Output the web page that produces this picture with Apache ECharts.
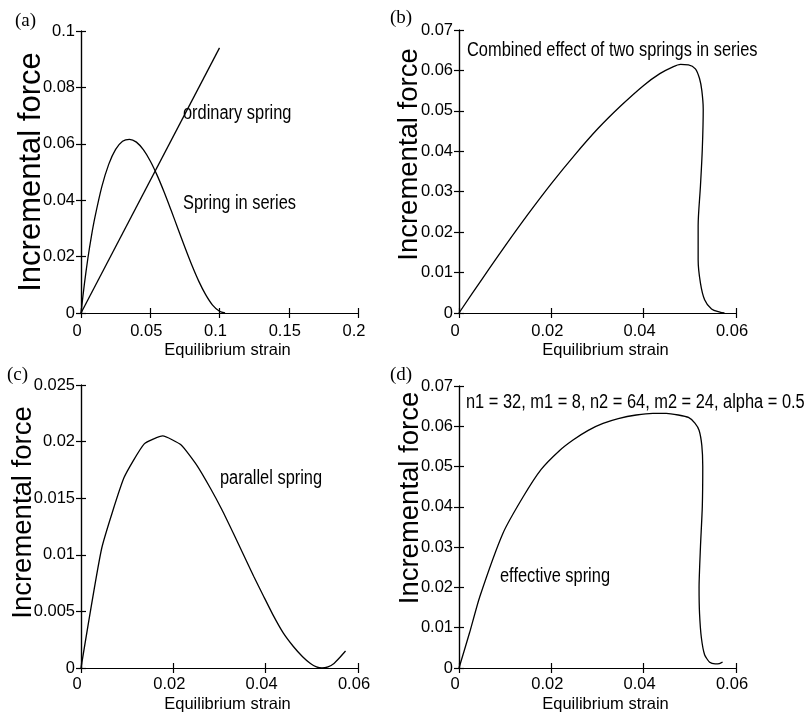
<!DOCTYPE html>
<html>
<head>
<meta charset="utf-8">
<script src="https://cdn.jsdelivr.net/npm/echarts@6/dist/echarts.min.js"></script>
<style>html,body{margin:0;padding:0;background:#fff;}#chart{width:805px;height:718px;}</style>
</head>
<body>
<div id="chart"></div>
<script>
// ---------- data ----------
// panel (a)
const aOrdinaryX = [0, 0.1];
const aOrdinaryY = [0, 0.094];
const aSeriesX = [0, 0.0025, 0.005, 0.0075, 0.01, 0.015, 0.02, 0.025, 0.03, 0.035, 0.04, 0.045, 0.05, 0.055, 0.06, 0.065, 0.07, 0.075, 0.08, 0.085, 0.09, 0.095, 0.1, 0.104];
const aSeriesY = [0, 0.0105, 0.0195, 0.0272, 0.0338, 0.0447, 0.0527, 0.058, 0.0609, 0.0616, 0.0606, 0.0579, 0.0539, 0.0488, 0.0429, 0.0365, 0.0299, 0.0233, 0.0170, 0.0113, 0.0065, 0.0028, 0.0006, 0];
// panel (b)
const bX = [0, 0.005, 0.01, 0.015, 0.02, 0.025, 0.03, 0.035, 0.04, 0.0435, 0.046, 0.048, 0.0497, 0.0512, 0.0521, 0.0526, 0.0529, 0.0527, 0.0523, 0.0518, 0.0518, 0.0523, 0.0532, 0.0547, 0.0565, 0.0575];
const bY = [0, 0.0084, 0.0166, 0.0245, 0.032, 0.039, 0.0455, 0.0512, 0.0563, 0.0592, 0.0607, 0.0615, 0.0614, 0.0604, 0.058, 0.055, 0.0504, 0.0405, 0.0314, 0.0215, 0.0132, 0.0074, 0.0033, 0.001, 0.0002, 0];
// panel (c)
const cX = [0, 0.0045, 0.0093, 0.0137, 0.0177, 0.0217, 0.0251, 0.028, 0.0305, 0.033, 0.0352, 0.0374, 0.0396, 0.0417, 0.0438, 0.046, 0.048, 0.0497, 0.051, 0.0522, 0.0535, 0.0548, 0.056, 0.0573];
const cY = [0, 0.0106, 0.0168, 0.0198, 0.0205, 0.0197, 0.0179, 0.0159, 0.014, 0.0119, 0.01, 0.0081, 0.0063, 0.0046, 0.0031, 0.0019, 0.001, 0.0004, 0.0001, 0, 0.0001, 0.0004, 0.0009, 0.0015];
// panel (d)
const dX = [0, 0.0023, 0.0045, 0.0095, 0.0139, 0.0178, 0.0218, 0.0247, 0.028, 0.0312, 0.0345, 0.0384, 0.042, 0.0449, 0.0475, 0.0497, 0.0511, 0.052, 0.0526, 0.0528, 0.0527, 0.0523, 0.052, 0.0521, 0.0525, 0.0532, 0.0543, 0.0555, 0.0564, 0.0571];
const dY = [0, 0.0088, 0.0177, 0.0334, 0.0425, 0.0493, 0.054, 0.0566, 0.059, 0.0607, 0.0619, 0.0628, 0.0632, 0.0632, 0.0628, 0.0622, 0.0608, 0.059, 0.0552, 0.05, 0.04, 0.03, 0.02, 0.0136, 0.0075, 0.0033, 0.0014, 0.001, 0.0011, 0.0015];

// tick labels
const aXTicks = ['0', '0.05', '0.1', '0.15', '0.2'];
const aYTicks = ['0', '0.02', '0.04', '0.06', '0.08', '0.1'];
const bXTicks = ['0', '0.02', '0.04', '0.06'];
const bYTicks = ['0', '0.01', '0.02', '0.03', '0.04', '0.05', '0.06', '0.07'];
const cXTicks = ['0', '0.02', '0.04', '0.06'];
const cYTicks = ['0', '0.005', '0.01', '0.015', '0.02', '0.025'];
const dXTicks = ['0', '0.02', '0.04', '0.06'];
const dYTicks = ['0', '0.01', '0.02', '0.03', '0.04', '0.05', '0.06', '0.07'];

// texts
const xName = 'Equilibrium strain';
const yName = 'Incremental force';
const panelTags = ['(a)', '(b)', '(c)', '(d)'];
const notes = ['ordinary spring', 'Spring in series', 'Combined effect of two springs in series', 'parallel spring', 'n1 = 32, m1 = 8, n2 = 64, m2 = 24, alpha = 0.5', 'effective spring'];

// ---------- build ----------
const SANS = "'Liberation Sans', Arial, sans-serif";
const SERIF = "'Liberation Serif', 'Times New Roman', serif";
const pair = (xs, ys) => xs.map((x, i) => [x, ys[i]]);

const grids = [
  {left: 81, top: 31, width: 277, height: 282},
  {left: 459, top: 30, width: 277, height: 283},
  {left: 81, top: 385, width: 277, height: 283},
  {left: 459, top: 386, width: 277, height: 282}
];
const xTicksAll = [aXTicks, bXTicks, cXTicks, dXTicks];
const yTicksAll = [aYTicks, bYTicks, cYTicks, dYTicks];
const yNameFont = [31, 27.5, 27.5, 27.5];
const yNameGap = [34, 36, 44, 35];
const yNameShift = [0, 17, 14, 29];
const xLabelMargin = [10, 10, 8, 8];
const xNameGap = [29, 29, 28, 28];
const TICK_FS = 16.5;

const lineStyleAxis = {color: '#000', width: 1.2};
const xAxes = [], yAxes = [];
grids.forEach((g, i) => {
  const xt = xTicksAll[i], yt = yTicksAll[i];
  const xmin = +xt[0], xmax = +xt[xt.length - 1], xint = +xt[1] - +xt[0];
  const ymin = +yt[0], ymax = +yt[yt.length - 1], yint = +yt[1] - +yt[0];
  xAxes.push({
    type: 'value', gridIndex: i, position: 'bottom', min: xmin, max: xmax, interval: xint,
    axisLine: {show: true, lineStyle: lineStyleAxis},
    axisTick: {show: true, inside: true, length: 5, lineStyle: lineStyleAxis},
    splitLine: {show: false},
    axisLabel: {color: '#000', fontFamily: SANS, fontSize: TICK_FS, margin: xLabelMargin[i], padding: [0, 8, 0, 0],
      formatter: (v, idx) => xt[idx]},
    name: xName, nameLocation: 'middle', nameGap: xNameGap[i], nameMoveOverlap: false,
    nameTextStyle: {color: '#000', fontFamily: SANS, fontSize: 16.5, padding: [0, 0, 0, 16]}
  });
  xAxes.push({
    type: 'value', gridIndex: i, position: 'top', min: xmin, max: xmax, interval: xint,
    axisLine: {show: true, lineStyle: lineStyleAxis},
    axisTick: {show: true, inside: true, length: 5, lineStyle: lineStyleAxis},
    splitLine: {show: false}, axisLabel: {show: false}
  });
  yAxes.push({
    type: 'value', gridIndex: i, position: 'left', min: ymin, max: ymax, interval: yint,
    axisLine: {show: true, lineStyle: lineStyleAxis},
    axisTick: {show: true, inside: true, length: 5, lineStyle: lineStyleAxis},
    splitLine: {show: false},
    axisLabel: {color: '#000', fontFamily: SANS, fontSize: TICK_FS, margin: 6,
      formatter: (v, idx) => yt[idx]},
    name: yName, nameLocation: 'middle', nameGap: yNameGap[i], nameMoveOverlap: false,
    nameTextStyle: {color: '#000', fontFamily: SANS, fontSize: yNameFont[i], padding: [0, 0, 0, 2 * yNameShift[i]]}
  });
  yAxes.push({
    type: 'value', gridIndex: i, position: 'right', min: ymin, max: ymax, interval: yint,
    axisLine: {show: true, lineStyle: lineStyleAxis},
    axisTick: {show: true, inside: true, length: 5, lineStyle: lineStyleAxis},
    splitLine: {show: false}, axisLabel: {show: false}
  });
});

const curve = (data, gi, smooth) => ({
  type: 'line', xAxisIndex: gi * 2, yAxisIndex: gi * 2, data: data, smooth: smooth,
  showSymbol: false, symbol: 'none', lineStyle: {color: '#000', width: 1.3}, silent: true, animation: false
});

const series = [
  curve(pair(aOrdinaryX, aOrdinaryY), 0, false),
  curve(pair(aSeriesX, aSeriesY), 0, 0.3),
  curve(pair(bX, bY), 1, 0.3),
  curve(pair(cX, cY), 2, 0.15),
  curve(pair(dX, dY), 3, 0.2)
];

const txt = (x, y, text, font, size, sx) => ({
  type: 'text', x: x, y: y, scaleX: sx, silent: true,
  style: {text: text, fontFamily: font, fontSize: size, fill: '#000', verticalAlign: 'middle', align: 'left'}
});

const graphic = [
  txt(15, 21, panelTags[0], SERIF, 19, 1),
  txt(390, 18, panelTags[1], SERIF, 19, 1),
  txt(7, 375, panelTags[2], SERIF, 19, 1),
  txt(390, 375, panelTags[3], SERIF, 19, 1),
  txt(183, 113, notes[0], SANS, 20, 0.82),
  txt(183, 203, notes[1], SANS, 20, 0.82),
  txt(467, 50, notes[2], SANS, 20, 0.82),
  txt(220, 478, notes[3], SANS, 20, 0.82),
  txt(466, 402, notes[4], SANS, 20, 0.82),
  txt(500, 576, notes[5], SANS, 20, 0.82)
];

const chart = echarts.init(document.getElementById('chart'), null, {renderer: 'canvas'});
chart.setOption({
  animation: false,
  backgroundColor: '#fff',
  grid: grids,
  xAxis: xAxes,
  yAxis: yAxes,
  series: series,
  graphic: graphic
});
</script>
</body>
</html>
